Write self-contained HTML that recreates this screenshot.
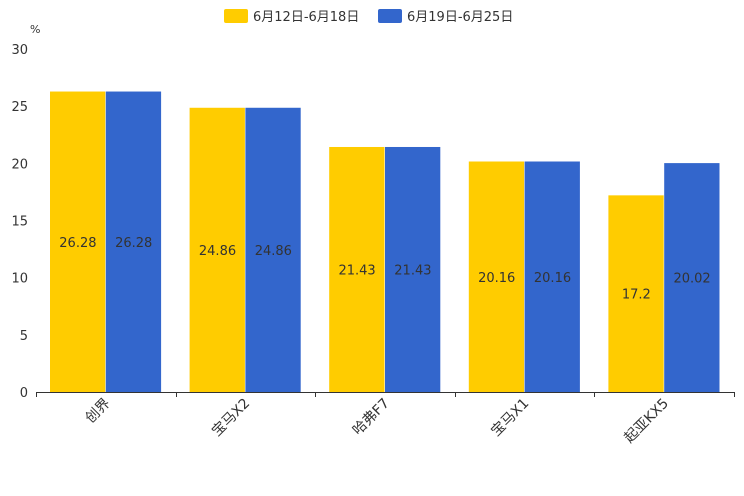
<!DOCTYPE html>
<html><head><meta charset="utf-8"><style>
body{margin:0;background:#fff;}
svg{display:block;font-family:"DejaVu Sans","Liberation Sans","Noto Sans CJK SC",sans-serif;}
</style></head><body>
<svg id="c" width="744" height="496" xmlns="http://www.w3.org/2000/svg">
<g id="legend">
<rect x="224" y="9" width="24" height="14" rx="2" fill="#ffcc00"/>
<text x="253" y="21" font-size="13" fill="#333">6月12日-6月18日</text>
<rect x="378" y="9" width="24" height="14" rx="2" fill="#3366cc"/>
<text x="407" y="21" font-size="13" fill="#333">6月19日-6月25日</text>
</g>
<text x="30" y="33" font-size="11" fill="#333">%</text>
</svg>
<script>
const categories=["创界","宝马X2","哈弗F7","宝马X1","起亚KX5"];
const series1=[26.28,24.86,21.43,20.16,17.2];
const series2=[26.28,24.86,21.43,20.16,20.02];
const yTicks=[0,5,10,15,20,25,30];
const svg=document.getElementById('c');
const NS='http://www.w3.org/2000/svg';
const x0=36,x1=734,y0=392,y1=49,ymax=30;
const bw=(x1-x0)/categories.length;
const y=v=>y0-(v/ymax)*(y0-y1);
function el(t,a,txt){const e=document.createElementNS(NS,t);for(const k in a)e.setAttribute(k,a[k]);if(txt!==undefined)e.textContent=txt;svg.appendChild(e);return e;}
yTicks.forEach(t=>{
 const e=el('text',{x:28,y:y(t)+5,'font-size':13,fill:'#333','text-anchor':'end'},t);
 
 
});
const colors=['#ffcc00','#3366cc'];
categories.forEach((c,i)=>{
 const gx=x0+i*bw, pad=14, w=(bw-2*pad)/2;
 [series1[i],series2[i]].forEach((v,j)=>{
  const bx=gx+pad+j*w;
  const r=el('rect',{x:bx,y:y(v),width:w-0.5,height:y0-y(v),fill:colors[j]});
  
  
  const t=el('text',{x:bx+w/2,y:(y(v)+y0)/2+5,'font-size':13,fill:'#333','text-anchor':'middle'},v);
  
  
 });
 const cx=gx+bw/2;
 const l=el('text',{x:cx+5,y:404,'font-size':14,fill:'#333','text-anchor':'end',transform:`rotate(-45 ${cx+5} 404)`},c);
 
 
});
const ax=el('line',{x1:x0,y1:y0+0.5,x2:x1,y2:y0+0.5,stroke:'#333','stroke-width':1});


for(let i=0;i<=categories.length;i++){
 const tx=Math.round(x0+i*bw)+0.5;
 const tk=el('line',{x1:tx,y1:y0,x2:tx,y2:y0+5,stroke:'#333'});
 
 
}
</script>
</body></html>
